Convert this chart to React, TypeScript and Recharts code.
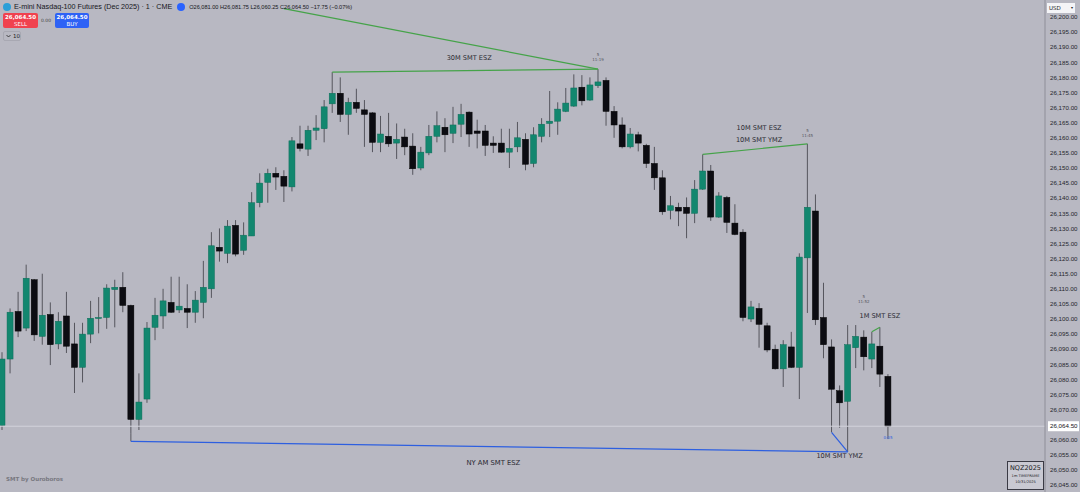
import React from 'react';
import { ComposedChart, Bar, XAxis, YAxis, ReferenceLine, ReferenceDot } from 'recharts';

// NQZ2025 1m candles
const opens = [
  26064.75, 26086.75, 26102.5, 26097, 26113, 26094.25, 26101.5, 26091.75, 26101, 26091.75,
  26084, 26095, 26100.25, 26100.5, 26109.75, 26110.5, 26104.5, 26066.75, 26073.5, 26097.25,
  26101, 26105.5, 26103, 26103.5, 26102.25, 26105.5, 26110, 26123.75, 26121.75, 26131,
  26122.75, 26127.5, 26138.5, 26145.25, 26148.25, 26147.25, 26143.75, 26158, 26156.25, 26162.5,
  26163, 26171.25, 26174.75, 26167.75, 26171.75, 26169.25, 26168.25, 26158.5, 26160.5, 26158.25,
  26160.25, 26157.25, 26150, 26155, 26160.5, 26163.5, 26161.5, 26164.5, 26168.5, 26162.25,
  26162.25, 26158.25, 26158.25, 26155.25, 26157, 26159.5, 26151.5, 26160.5, 26164.75, 26165.5,
  26168.75, 26170.5, 26176.75, 26172.5, 26177.25, 26179, 26168.75, 26164.25, 26157, 26161,
  26157.5, 26151.5, 26146.75, 26136, 26137, 26137, 26135, 26143, 26149, 26133.75,
  26140.25, 26131.75, 26128.75, 26100, 26103.5, 26097.75, 26090, 26083.5, 26090.75, 26084,
  26120.25, 26135.75, 26100.5, 26090.75, 26076.25, 26072.75, 26090.5, 26094, 26086.75, 26091,
  26081,
];
const highs = [
  26089, 26103.5, 26109, 26118, 26113.25, 26115, 26105.5, 26102.25, 26109, 26098.75,
  26098.75, 26106, 26107.25, 26111.5, 26113, 26115.5, 26104.75, 26082, 26099, 26107,
  26110, 26114, 26114, 26111.5, 26109.25, 26119.25, 26128.75, 26130, 26132.75, 26132.75,
  26132, 26142, 26148.25, 26149.75, 26150.25, 26149.25, 26160.25, 26164, 26164, 26167.5,
  26172.5, 26181.75, 26180, 26173.25, 26176.25, 26172.5, 26168.5, 26167.25, 26168.25, 26164.75,
  26163, 26161.5, 26157, 26164.25, 26168.75, 26166.5, 26170.25, 26171.25, 26168.75, 26166,
  26164.25, 26160.5, 26163, 26163, 26165.25, 26161.5, 26163.5, 26166.5, 26175.5, 26171.75,
  26176.5, 26181, 26180.75, 26180, 26182.75, 26180, 26170.5, 26166.75, 26163.25, 26162,
  26158, 26157, 26149.25, 26140.75, 26138.5, 26140.25, 26146, 26154.5, 26151, 26142,
  26140.75, 26138, 26129.75, 26106, 26105.25, 26098.75, 26091.5, 26093, 26095.75, 26121.75,
  26158, 26141.25, 26112, 26093.25, 26078, 26098, 26098, 26096.25, 26095.75, 26097.25,
  26081.75,
];
const lows = [
  26063.25, 26082, 26094, 26096, 26092.75, 26091.5, 26084.75, 26090, 26088.75, 26075.5,
  26079, 26092, 26095.25, 26096.75, 26097.25, 26102.25, 26062, 26063.25, 26072.25, 26093,
  26096.75, 26102, 26102, 26097, 26098.75, 26100.25, 26107, 26119, 26118.5, 26120.75,
  26121.25, 26127.5, 26137, 26138.5, 26142.75, 26138.75, 26142.25, 26155.5, 26154, 26159.25,
  26158.5, 26168.25, 26165.25, 26161, 26168.25, 26157, 26155.25, 26155.25, 26157, 26153,
  26154.25, 26147.75, 26149.25, 26154.25, 26158.5, 26155.25, 26158.25, 26160.25, 26157, 26156.5,
  26154, 26155, 26155, 26150, 26155.25, 26149.25, 26150.25, 26158.5, 26160.25, 26161,
  26168.5, 26170.25, 26170.75, 26172.25, 26176.5, 26164, 26160, 26156.5, 26156.5, 26155.5,
  26150, 26142.75, 26134.5, 26133, 26130.75, 26126.75, 26131.75, 26142.75, 26132.5, 26133.5,
  26128.5, 26127.75, 26099.25, 26099, 26090.5, 26089, 26083.25, 26077.5, 26083.75, 26073.5,
  26102, 26098, 26087, 26062.5, 26064, 26056, 26083.75, 26083, 26083.75, 26077.5,
  26060.25,
];
const closes = [
  26086.75, 26102.25, 26096, 26113.5, 26094.75, 26101.25, 26091.5, 26099.25, 26091, 26084,
  26095, 26100.25, 26100.5, 26110.25, 26110.5, 26104.5, 26066.75, 26072.5, 26097, 26101.25,
  26106, 26102.25, 26104.25, 26102.25, 26106.25, 26110.5, 26124.25, 26122.5, 26130.75, 26121.5,
  26127.75, 26138.5, 26145, 26148.25, 26147, 26144, 26159, 26156.5, 26162.5, 26163.25,
  26170.25, 26174.75, 26167.75, 26171.75, 26169.75, 26167.75, 26158.5, 26161.25, 26158, 26159.5,
  26157, 26149.75, 26155.25, 26160.5, 26164, 26161, 26164.25, 26167.75, 26161.25, 26161.5,
  26157.5, 26157.5, 26155.25, 26156.5, 26160, 26151.25, 26161, 26164.5, 26165.5, 26169.5,
  26171.5, 26176.5, 26172.25, 26177.5, 26178.5, 26168.75, 26164.25, 26157, 26161.25, 26158.25,
  26151.5, 26146.75, 26135.5, 26137.5, 26135.75, 26135, 26143, 26149, 26133.75, 26140.75,
  26132, 26128, 26100.5, 26104, 26098.25, 26089.75, 26083.5, 26091.5, 26084, 26120.5,
  26137, 26099.75, 26091.5, 26076.75, 26072.25, 26091.5, 26094.25, 26087.5, 26091.75, 26081.75,
  26064.5,
];

// 26,065 is hidden behind the last-price tag in the original
const priceTicks = [
  26045, 26050, 26055, 26060, 26070, 26075, 26080, 26085, 26090, 26095, 26100,
  26105, 26110, 26115, 26120, 26125, 26130, 26135, 26140, 26145, 26150, 26155, 26160,
  26165, 26170, 26175, 26180, 26185, 26190, 26195, 26200,
];
const lastPrice = 26064.5;
const totalSlots = 130; // includes blank space to the right of the last bar

const data = Array.from({ length: totalSlots }, (_, i) =>
  i < opens.length
    ? { i, o: opens[i], h: highs[i], l: lows[i], c: closes[i] }
    : { i },
);

const UP = '#12876f';
const DOWN = '#0c0c12';
const WICK = '#55555d';
const SMT_GREEN = '#45a349';
const SMT_BLUE = '#2d5fe0';
const BG = '#b8b8c2';
const FONT = "'DejaVu Sans', sans-serif";
const AXIS_FONT = "'Liberation Sans', Arial, sans-serif";

const Candle = (props: any) => {
  const { x, y, width, height, payload } = props;
  if (payload == null || payload.h == null) return null;
  const top = Math.min(y, y + height);
  const span = Math.abs(height);
  const k = span / (payload.h - payload.l);
  const cx = x + width / 2;
  const up = payload.c >= payload.o;
  const bodyTop = top + (payload.h - Math.max(payload.o, payload.c)) * k;
  const bodyH = Math.max(1, Math.abs(payload.o - payload.c) * k);
  return (
    <g>
      <line x1={cx} x2={cx} y1={top} y2={top + span} stroke={WICK} strokeWidth={1} />
      <rect
        x={cx - 3}
        y={bodyTop}
        width={6}
        height={bodyH}
        fill={up ? UP : DOWN}
        stroke={up ? '#0c6e59' : '#000'}
        strokeWidth={0.5}
      />
    </g>
  );
};

const txt = (value: string, size: number, color: string) => (p: any) => {
  const vb = p.viewBox || {};
  const cx = (vb.x ?? 0) + (vb.width ?? 0) / 2;
  const cy = (vb.y ?? 0) + (vb.height ?? 0) / 2;
  return (
    <text x={cx} y={cy + size * 0.35} textAnchor="middle" fontSize={size} fill={color} fontFamily={FONT}>
      {value}
    </text>
  );
};

const notes = [
  { x: 58, y: 26186.4, text: '30M SMT ESZ', size: 6.6, color: '#2b2b33' },
  { x: 74, y: 26187.4, text: '5', size: 4, color: '#55555e' },
  { x: 74, y: 26185.8, text: '11:19', size: 4, color: '#55555e' },
  { x: 94, y: 26163.3, text: '10M SMT ESZ', size: 6.6, color: '#2b2b33' },
  { x: 94, y: 26159.3, text: '10M SMT YMZ', size: 6.6, color: '#2b2b33' },
  { x: 100, y: 26162.3, text: '5', size: 4, color: '#55555e' },
  { x: 100, y: 26160.6, text: '11:45', size: 4, color: '#55555e' },
  { x: 109, y: 26101, text: '1M SMT ESZ', size: 6.6, color: '#2b2b33' },
  { x: 107, y: 26107.3, text: '5', size: 4, color: '#55555e' },
  { x: 107, y: 26105.6, text: '11:52', size: 4, color: '#55555e' },
  { x: 61, y: 26052.6, text: 'NY AM SMT ESZ', size: 6.8, color: '#2b2b33' },
  { x: 104, y: 26054.6, text: '10M SMT YMZ', size: 6.6, color: '#2b2b33' },
  { x: 110, y: 26060.6, text: '0:05', size: 4, color: '#2d5fe0' },
];

const fmt = (v: number) =>
  v.toLocaleString('en-US', { minimumFractionDigits: 2, maximumFractionDigits: 2 });

const PriceTick = (p: any) => {
  const { x, y, payload } = p;
  const v = payload.value;
  if (v === lastPrice) {
    return (
      <g>
        <rect x={x + 1} y={y - 5} width={31} height={10} fill="#ffffff" />
        <text x={x + 3} y={y + 2.2} fontSize={6.2} fill="#131318" fontFamily={AXIS_FONT}>
          {fmt(v)}
        </text>
      </g>
    );
  }
  return (
    <text x={x + 3} y={y + 2.2} fontSize={6.2} fill="#25252c" fontFamily={AXIS_FONT}>
      {fmt(v)}
    </text>
  );
};

const Chevron = () => (
  <svg width={5} height={4} viewBox="0 0 5 4" style={{ marginRight: 2 }}>
    <path d="M0.5 1 L2.5 3 L4.5 1" fill="none" stroke="#222" strokeWidth={0.8} />
  </svg>
);

export default function App() {
  return (
    <div style={{ position: 'relative', width: 1080, height: 492, background: BG, overflow: 'hidden', fontFamily: FONT }}>
      <style>{`body{margin:0}`}</style>
      <ComposedChart
        width={1080}
        height={492}
        data={data}
        margin={{ top: 0, right: 0, bottom: 0, left: -2 }}
        barCategoryGap={1}
      >
        <XAxis dataKey="i" type="category" hide />
        <YAxis
          orientation="right"
          type="number"
          domain={[26042.72, 26205.63]}
          allowDataOverflow
          ticks={[...priceTicks, lastPrice]}
          interval={0}
          width={35}
          tickLine={false}
          tickSize={0}
          axisLine={{ stroke: '#8e8e98' }}
          tick={PriceTick}
        />
        <ReferenceLine y={lastPrice} stroke="#d3d3dc" strokeWidth={1} />
        <Bar dataKey={(d: any) => (d.h == null ? null : [d.l, d.h])} shape={Candle} isAnimationActive={false} />
        <ReferenceLine segment={[{ x: 35, y: 26202.75 }, { x: 74, y: 26182.75 }]} stroke={SMT_GREEN} strokeWidth={1.2} />
        <ReferenceLine segment={[{ x: 41, y: 26181.75 }, { x: 74, y: 26182.75 }]} stroke={SMT_GREEN} strokeWidth={1.2} />
        <ReferenceLine segment={[{ x: 87, y: 26154.5 }, { x: 100, y: 26158 }]} stroke={SMT_GREEN} strokeWidth={1.2} />
        <ReferenceLine segment={[{ x: 108, y: 26095.75 }, { x: 109, y: 26097.25 }]} stroke={SMT_GREEN} strokeWidth={1.2} />
        <ReferenceLine segment={[{ x: 16, y: 26062 }, { x: 16, y: 26059.5 }]} stroke={WICK} strokeWidth={1} />
        <ReferenceLine segment={[{ x: 16, y: 26059.5 }, { x: 105, y: 26056 }]} stroke={SMT_BLUE} strokeWidth={1.2} />
        <ReferenceLine segment={[{ x: 103, y: 26062.5 }, { x: 105, y: 26056 }]} stroke={SMT_BLUE} strokeWidth={1.2} />
        {notes.map((n, k) => (
          <ReferenceDot key={k} x={n.x} y={n.y} r={0} stroke="none" fill="none" label={txt(n.text, n.size, n.color)} />
        ))}
      </ComposedChart>

      {/* header */}
      <div style={{ position: 'absolute', left: 3, top: 2, display: 'flex', alignItems: 'center', color: '#15151a', whiteSpace: 'nowrap', fontFamily: AXIS_FONT }}>
        <span style={{ width: 8, height: 8, borderRadius: 4, background: '#2a9fd8', display: 'inline-block', marginRight: 3 }} />
        <span style={{ fontSize: 7.2 }}>E-mini Nasdaq-100 Futures (Dec 2025) · 1 · CME</span>
        <span style={{ width: 8, height: 8, borderRadius: 4, background: '#2962ff', display: 'inline-block', margin: '0 4px 0 5px' }} />
        <span style={{ fontSize: 5.6 }}>O26,081.00 H26,081.75 L26,060.25 C26,064.50 −17.75 (−0.07%)</span>
      </div>
      <div style={{ position: 'absolute', left: 3, top: 13, width: 35, height: 15, background: '#f0424f', borderRadius: 2, color: '#fff', fontSize: 5.5, textAlign: 'center', lineHeight: '7px', paddingTop: 1, boxSizing: 'border-box' }}>
        <div style={{ fontWeight: 700 }}>26,064.50</div>
        <div>SELL</div>
      </div>
      <div style={{ position: 'absolute', left: 41, top: 18, fontSize: 4.5, color: '#444' }}>0.00</div>
      <div style={{ position: 'absolute', left: 55, top: 13, width: 34, height: 15, background: '#2e62f5', borderRadius: 2, color: '#fff', fontSize: 5.5, textAlign: 'center', lineHeight: '7px', paddingTop: 1, boxSizing: 'border-box' }}>
        <div style={{ fontWeight: 700 }}>26,064.50</div>
        <div>BUY</div>
      </div>
      <div style={{ position: 'absolute', left: 3, top: 31, width: 18, height: 10, border: '1px solid #a8a8b2', borderRadius: 2, fontSize: 5.5, color: '#222', boxSizing: 'border-box', paddingLeft: 2, display: 'flex', alignItems: 'center', whiteSpace: 'nowrap' }}>
        <Chevron />10
      </div>

      {/* axis currency selector */}
      <div style={{ position: 'absolute', left: 1047, top: 3, width: 28, height: 10, background: '#f4f4f7', fontSize: 5.5, color: '#222', lineHeight: '10px', paddingLeft: 2, boxSizing: 'border-box' }}>
        USD <span style={{ float: 'right', marginRight: 2, fontSize: 4 }}>▾</span>
      </div>

      {/* footer */}
      <div style={{ position: 'absolute', left: 6, top: 476, fontSize: 5.5, color: '#77777f', fontWeight: 700 }}>SMT by Ouroboros</div>
      <div style={{ position: 'absolute', left: 1007, top: 461, width: 37, height: 29, border: '1px solid #3a3a44', background: '#c9c9d2', boxSizing: 'border-box', textAlign: 'center', color: '#1a1a22' }}>
        <div style={{ fontSize: 6.5, lineHeight: '9px', marginTop: 2 }}>NQZ2025</div>
        <div style={{ fontSize: 3.6, lineHeight: '6px' }}>1m TIMEFRAME</div>
        <div style={{ fontSize: 3.6, lineHeight: '6px' }}>10/31/2025</div>
      </div>
    </div>
  );
}
